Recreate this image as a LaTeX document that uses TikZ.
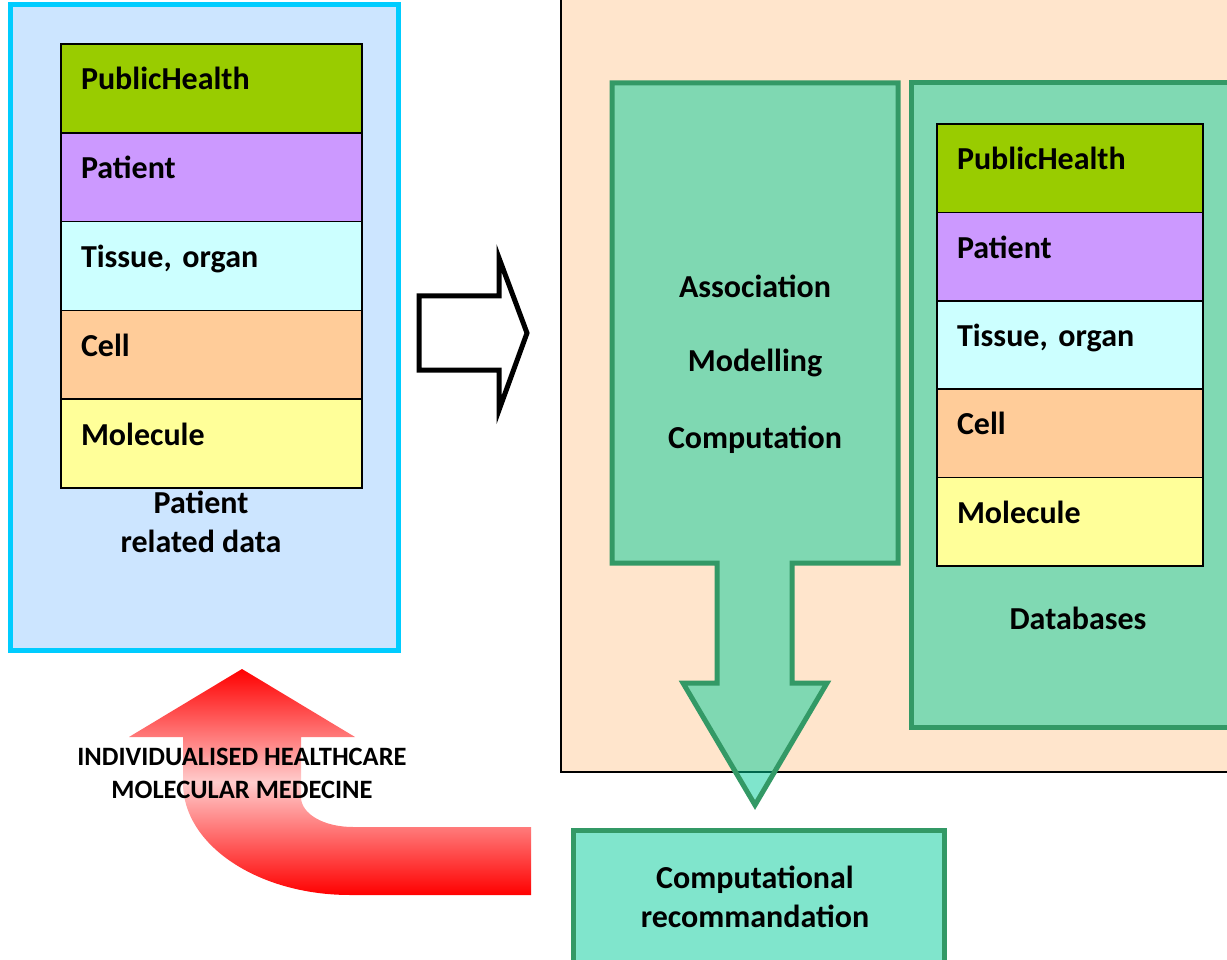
\documentclass[tikz,border=0pt]{standalone}
\usepackage{fontspec}
\setmainfont{Carlito}
\usepackage{tikz}
\usetikzlibrary{positioning}

\definecolor{panelblue}{HTML}{CCE5FF}
\definecolor{panelcyan}{HTML}{00CCFF}
\definecolor{peach}{HTML}{FFE5CC}
\definecolor{boxgreen}{HTML}{339966}
\definecolor{tealfill}{HTML}{00CC99}
\definecolor{dbfill}{HTML}{80D9B3}
\definecolor{recfill}{HTML}{80E5CC}
\definecolor{lgreen}{HTML}{99CC00}
\definecolor{lpurple}{HTML}{CC99FF}
\definecolor{lcyan}{HTML}{CCFFFF}
\definecolor{lorange}{HTML}{FFCC99}
\definecolor{lyellow}{HTML}{FFFF99}

\begin{document}
\begin{tikzpicture}[x=1pt,y=-1pt,
	layer/.style={draw=black,line width=1.5pt,outer sep=0pt,inner xsep=20pt,align=left,anchor=north west,
		text height=0.7em,text depth=0.4em,font=\fontsize{32}{38}\selectfont\bfseries},
	bigtext/.style={font=\fontsize{32}{39}\selectfont\bfseries,align=center},
	greenbox/.style={draw=boxgreen,line width=5pt}]
	\useasboundingbox (0,0) rectangle (1227,960);
	% patient related data
	\draw[draw=panelcyan,line width=5pt,fill=panelblue] (10,5) rectangle (398,650);
	\foreach \txt/\col [count=\i] in {PublicHealth/lgreen,Patient/lpurple,{Tissue, organ}/lcyan,Cell/lorange,Molecule/lyellow}
		\node[layer,fill=\col,text width=261pt,minimum height=88.8pt] (left\i) at (61,{44+(\i-1)*88.8}) {\txt};
	\node[bigtext] (patdata) at (201,522) {Patient\\related data};
	% open arrow
	\draw[line width=5pt,fill=white] (419,296) -- (499,296) -- (499,258) -- (527,333) -- (499,410) -- (499,370) -- (419,370) -- cycle;
	% model panel
	\draw[line width=1.5pt,fill=peach] (561,-10) rectangle (1240,772);
	\draw[greenbox,fill=tealfill,fill opacity=0.5] (612,83) -- (898,83) -- (898,563) -- (792,563) -- (792,683) -- (827,683)
		-- (755,805) -- (683,683) -- (717,683) -- (717,563) -- (612,563) -- cycle;
	\node[bigtext] (assoc) at (755,286) {Association};
	\node[bigtext] (model) at (755,363) {Modelling};
	\node[bigtext] (comp) at (755,440) {Computation};
	\draw[greenbox,fill=dbfill] (911,83) rectangle (1240,727);
	\foreach \txt/\col [count=\i] in {PublicHealth/lgreen,Patient/lpurple,{Tissue, organ}/lcyan,Cell/lorange,Molecule/lyellow}
		\node[layer,fill=\col,text width=226pt,minimum height=88.4pt] (right\i) at (937,{124+(\i-1)*88.4}) {\txt};
	\node[bigtext] (db) at (1078,618) {Databases};
	% recommendation
	\node[greenbox,fill=recfill,minimum width=371pt,minimum height=160pt,anchor=north west] (rec) at (571,828) {};
	\node[bigtext] (rectext) at (755,897) {Computational\\recommandation};
	% feedback arrow
	\shade[top color=red,bottom color=red,middle color=red!20] (242,669) -- (355,737) -- (301,737) -- (301,797)
		.. controls (301,814) and (324,827) .. (353,827) -- (531,827) -- (531,895) -- (350,895)
		.. controls (258,895) and (183,845) .. (183,783) -- (183,737) -- (129,737) -- cycle;
	\node[font=\fontsize{26.5}{33}\selectfont\bfseries,align=center] (care) at (242,773) {INDIVIDUALISED HEALTHCARE\\MOLECULAR MEDECINE};
\end{tikzpicture}
\end{document}
